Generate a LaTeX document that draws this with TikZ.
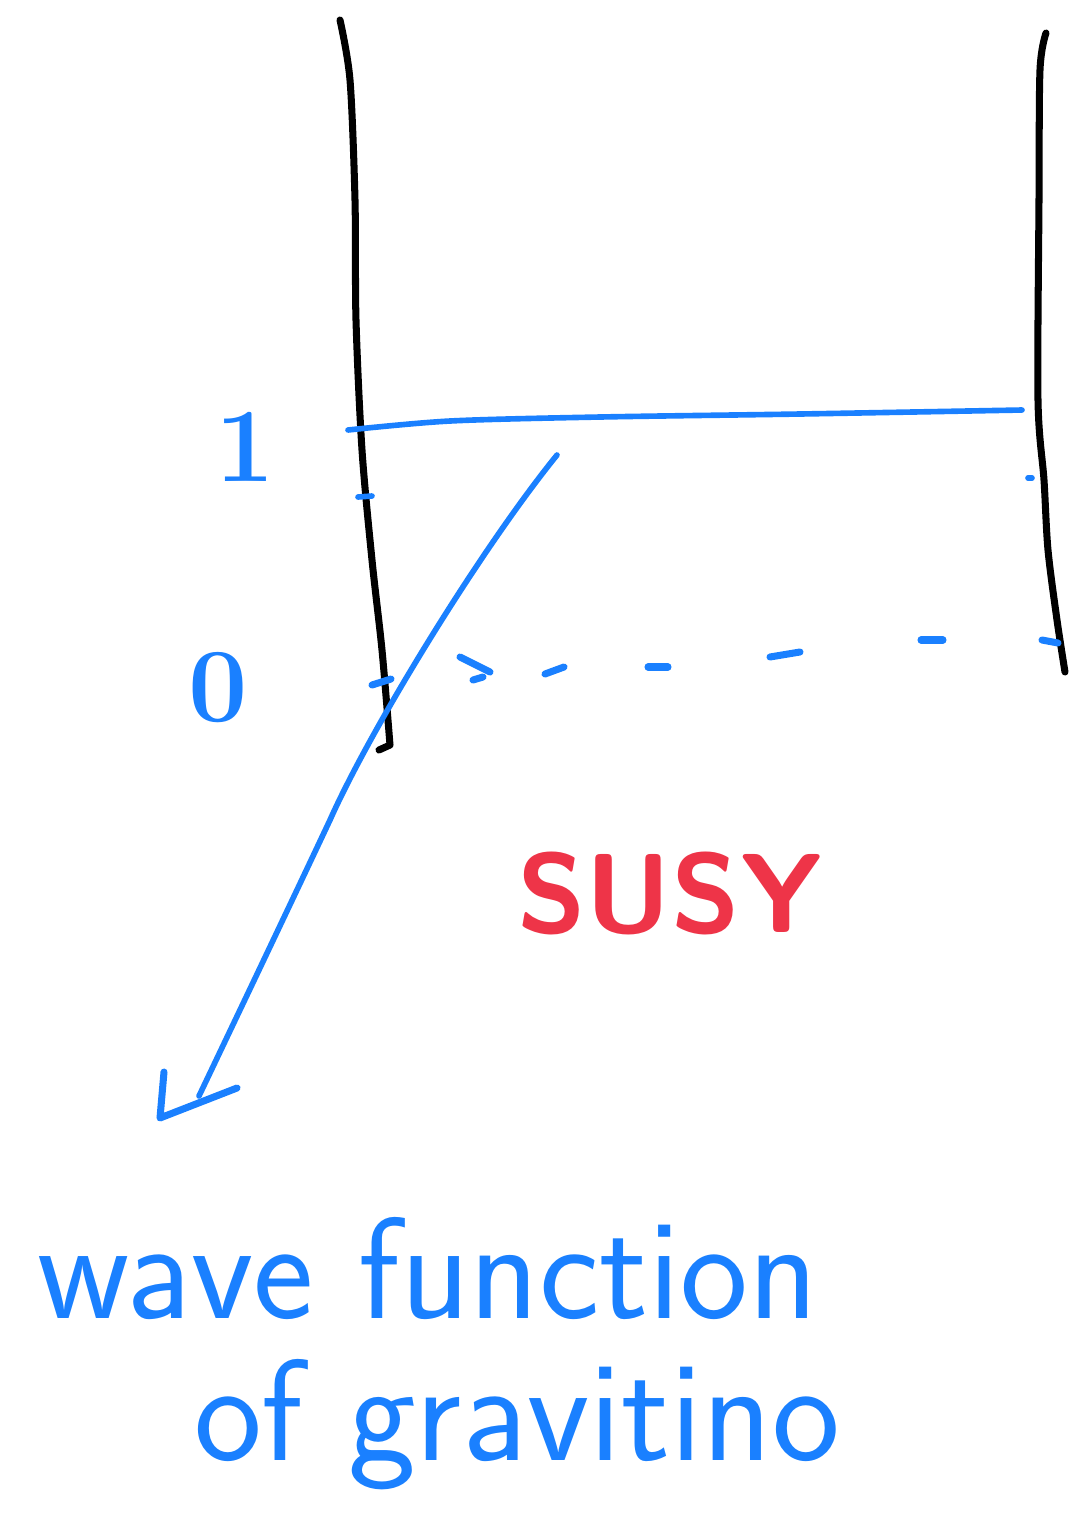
\documentclass[tikz,border=0pt]{standalone}
\usepackage{tikz}
\usetikzlibrary{positioning}
\definecolor{PenBlue}{RGB}{26,128,255}
\definecolor{PenRed}{RGB}{238,52,72}

\begin{document}
\begin{tikzpicture}[x=0.1mm, y=-0.1mm, line cap=round, line join=round,
    wall/.style={line width=2pt, black},
    pen/.style={line width=1.6pt, PenBlue},
    dashpen/.style={line width=2pt, PenBlue},
    axislabel/.style={PenBlue, font=\bfseries\fontsize{30}{32}\selectfont},
    note/.style={PenBlue, font=\sffamily\fontsize{41}{44}\selectfont}]
  \useasboundingbox (0,0) rectangle (1072,1513);
  % the two walls
  \draw[wall] plot[smooth, tension=0.5] coordinates {(340,20) (350,80) (355,200) (356,320) (362,450) (372,560) (382,650) (390,745)} -- (379,750);
  \draw[wall] plot[smooth, tension=0.5] coordinates {(1046,33) (1040,70) (1039,200) (1038,400) (1044,480) (1048,550) (1057,620) (1065,672)};
  % level 1
  \draw[pen] plot[smooth, tension=0.5] coordinates {(348,430) (450,421) (600,417) (800,414) (1022,410)};
  \draw[pen] (358,497) -- (372,496);
  \draw[pen] (1028,478) -- (1032,478);
  \node[axislabel] (one) at (245,447) {1};
  \node[axislabel] (zero) at (218,688) {0};
  % level 0, dashed
  \draw[dashpen] (372,685) -- (391,679);
  \draw[dashpen] (460,657) -- (490,672);
  \draw[dashpen] (473,680) -- (483,677);
  \draw[dashpen] (545,674) -- (564,667);
  \draw[dashpen] (648,667) -- (668,667);
  \draw[dashpen] (770,657) -- (800,652);
  \draw[dashpen] (921,640) -- (943,640);
  \draw[dashpen] (1042,640) -- (1058,643);
  % arrow to the note
  \coordinate (start) at (557,455);
  \coordinate (end) at (199,1096);
  \draw[pen] (start) .. controls (480,550) and (370,730) .. (330,820) .. controls (290,905) and (240,1010) .. (end);
  \draw[line width=2pt, PenBlue] (164,1072) -- (160,1118) -- (237,1088);
  \node[PenRed, font=\sffamily\bfseries\fontsize{32}{36}\selectfont] (susy) at (670,893) {SUSY};
  \node[note] (wave) at (428,1268) {wave function};
  \node[note] (grav) at (517,1425) {of gravitino};
\end{tikzpicture}
\end{document}
